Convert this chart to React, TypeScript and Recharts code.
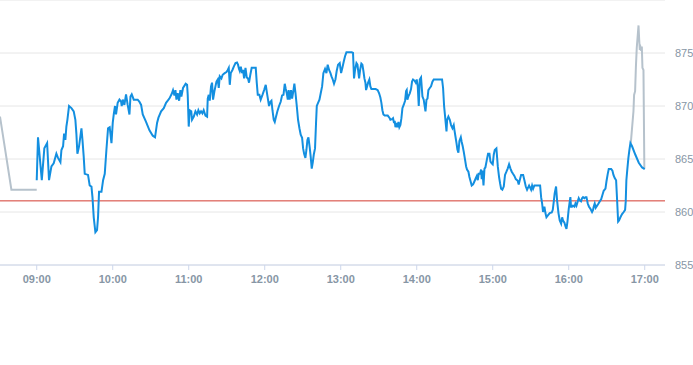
import React from 'react'
import { LineChart, Line, XAxis, YAxis, CartesianGrid, ReferenceLine } from 'recharts'

// minutes after 09:00 and price, regular session
const sessionTimes = [
  0, 1, 4, 6, 8.2, 9.7, 11.6, 13.4, 15.5, 16.8, 18.7, 19.5, 20.8, 21.6, 22.6, 23.4, 24.2, 25.5, 27.4, 29.2,
  30.5, 31.3, 32.1, 33.4, 35.3, 36.1, 37.1, 37.9, 40.5, 41.8, 43.2, 44, 45, 46.3, 47.6, 48.4, 49.2, 51.1, 52.4, 53.7,
  55, 56.3, 57.6, 59, 60, 60.8, 61.8, 62.6, 63.9, 65.3, 66.6, 67.1, 67.9, 69.2, 70.5, 71.8, 73.2, 74, 75, 76.6,
  79.7, 81.1, 82.4, 83.7, 86.3, 89, 91.6, 93.4, 95, 96.1, 98.2, 100.3, 102.1, 104.7, 106.6, 107.6, 108.7, 109.5, 110.3, 111.3,
  112.4, 113.4, 114.2, 115.5, 117.6, 118.7, 119.2, 120, 120.8, 122, 122.6, 124, 125.3, 126.6, 127.6, 128.7, 129.7, 130.8, 131.8, 133.2,
  134.5, 135, 135.8, 136.6, 137.6, 138.4, 139.2, 140.3, 141.9, 142.9, 143.7, 144.5, 145.8, 146.8, 148.4, 149.8, 150.8, 151.6, 152.4, 153.2,
  154.5, 155.5, 156.9, 158.1, 158.9, 159.7, 160.3, 161.1, 162.1, 162.9, 163.7, 164.8, 165.8, 166.8, 167.6, 168.7, 169.7, 172.9, 173.7, 174.5,
  175.8, 176.8, 178.2, 179.5, 180.8, 181.8, 183.4, 184.5, 185.3, 186.1, 187.1, 187.9, 188.7, 190, 191.3, 192.6, 193.7, 194.8, 195.8, 196.6,
  197.4, 198.2, 198.9, 199.7, 200.8, 201.6, 202.7, 203.4, 204.3, 205.3, 206.3, 207.4, 208.4, 209.5, 210.3, 211.1, 212.1, 212.9, 213.7, 214.5,
  215.5, 216.3, 217.1, 217.9, 218.7, 219.7, 220.5, 221.1, 222.1, 223.2, 224.2, 225.3, 226.3, 227.6, 228.7, 229.7, 230.8, 231.9, 232.7, 233.7,
  234.7, 235.8, 236.8, 237.9, 239.2, 240.3, 241.3, 242.4, 243.4, 244.5, 248.7, 249.7, 250.5, 251.3, 252.4, 253.2, 254, 254.5, 255.3, 256.3,
  257.1, 257.9, 258.7, 259.5, 260, 260.8, 261.6, 262.6, 263.4, 264.2, 267.6, 269.2, 270.3, 271.3, 272.1, 272.9, 273.7, 274.7, 277.1, 278.4,
  279.2, 280.5, 281.3, 282.1, 282.6, 283.2, 284, 284.8, 285.6, 286.3, 287.1, 287.9, 288.7, 289.7, 290.8, 291.6, 292.1, 292.6, 293.4, 294.5,
  295.5, 296.3, 297.1, 298.2, 299.2, 300, 300.8, 301.6, 302.4, 303.4, 304.5, 305.5, 306.9, 307.7, 308.5, 309.2, 310.3, 311.3, 312.4, 313.4,
  320, 320.8, 321.6, 322.4, 323.5, 324, 325, 326.1, 327.1, 328.2, 329.2, 329.8, 330.6, 331.4, 332.1, 332.9, 333.7, 334.8, 335.5, 336.3,
  337.1, 338.2, 339, 339.7, 340.8, 341.6, 342.4, 343.4, 344.5, 345.6, 346.6, 347.4, 348.2, 348.9, 350, 350.8, 351.3, 351.9, 352.7, 353.5,
  354.2, 355.3, 356.3, 357.4, 358.2, 359.2, 360, 360.8, 361.6, 362.9, 364, 365, 365.8, 366.6, 367.6, 368.7, 369.7, 370.8, 371.8, 372.9,
  374, 375, 376, 377.1, 378.2, 379.7, 380.5, 381.3, 382.4, 384, 385, 386.1, 387.1, 387.9, 388.7, 389.5, 390.3, 391.1, 391.9, 392.9,
  397.4, 398.2, 399, 399.7, 400.8, 401.6, 402.4, 403.7, 405, 406.6, 407.4, 408.2, 408.9, 410, 410.8, 411.9, 412.9, 414, 414.8, 415.5,
  416.6, 417.4, 418.2, 419, 420, 420.8, 421.3, 421.8, 422.6, 423.4, 424.5, 425.3, 426.1, 427.1, 427.9, 428.7, 429.7, 430.5, 431.3, 432.4,
  433.2, 434, 435, 436, 437.1, 438.4, 439.2, 439.7, 440.5, 441.3, 442.4, 443.5, 444.5, 445.6, 446.6, 447.6, 449, 449.8, 450.8, 451.6,
  453.5, 454.5, 455.3, 456.3, 457.4, 458.2, 459, 459.7, 460.8, 462.1, 463.4, 464.5, 465, 465.5, 466.3, 467.1, 467.9, 468.7, 470, 472.6,
  475.3, 477.9, 480,
]

const sessionPrices = [
  863.0, 867.05, 863.0, 866.0, 866.5, 863.0, 864.3, 864.6, 865.5, 865.1, 864.7, 865.85, 866.2, 867.4, 866.8, 868.06, 868.7, 870.0, 869.8, 869.5,
  868.7, 867.4, 865.5, 866.2, 867.9, 866.8, 865.2, 863.6, 863.5, 862.5, 862.4, 861.4, 859.5, 858.1, 858.3, 859.5, 861.9, 861.9, 863.0, 863.6,
  865.85, 867.9, 868.0, 866.5, 868.4, 869.2, 870.0, 869.2, 870.3, 870.6, 870.4, 870.0, 870.6, 870.1, 871.1, 870.1, 869.2, 870.9, 871.1, 870.6,
  870.6, 870.4, 870.1, 869.2, 868.5, 867.7, 867.2, 867.05, 868.4, 868.9, 869.5, 869.8, 870.3, 870.7, 871.15, 871.5, 871.0, 871.5, 870.6, 871.2,
  870.5, 871.5, 870.9, 871.7, 872.1, 872.0, 871.05, 868.06, 869.6, 869.5, 868.7, 869.0, 869.5, 869.2, 869.6, 869.3, 869.5, 869.3, 869.6, 869.1,
  869.0, 870.7, 871.05, 870.5, 871.85, 872.2, 870.6, 871.4, 872.3, 872.5, 871.7, 872.8, 872.6, 872.95, 873.1, 873.2, 873.4, 873.6, 872.0, 873.1,
  873.4, 873.7, 874.05, 874.1, 873.9, 873.5, 873.3, 873.7, 873.1, 873.4, 872.6, 873.6, 872.7, 872.6, 872.2, 873.0, 873.6, 873.6, 872.2, 871.05,
  871.05, 870.6, 871.05, 871.5, 872.0, 871.2, 870.0, 870.4, 870.5, 869.6, 868.7, 868.5, 868.9, 869.5, 870.0, 870.4, 871.0, 871.05, 872.1, 871.6,
  871.2, 870.6, 871.5, 870.6, 871.5, 870.7, 871.5, 872.1, 871.2, 870.0, 868.7, 867.9, 867.3, 867.0, 866.0, 865.5, 865.1, 865.85, 866.8, 867.05,
  866.1, 865.2, 864.1, 864.65, 865.4, 866.0, 868.4, 870.0, 870.3, 870.6, 871.2, 871.85, 873.1, 873.5, 873.1, 873.9, 873.4, 873.1, 872.8, 872.5,
  872.1, 872.5, 873.3, 873.9, 874.05, 873.1, 873.6, 874.2, 874.7, 875.06, 875.06, 875.0, 872.6, 873.4, 874.05, 873.9, 873.1, 872.6, 873.4, 874.0,
  873.9, 873.3, 872.6, 872.2, 871.5, 871.85, 872.2, 872.5, 871.85, 871.6, 871.6, 871.5, 871.2, 870.8, 870.3, 869.6, 869.2, 869.1, 869.1, 868.9,
  868.7, 868.75, 868.85, 868.4, 868.6, 868.0, 868.4, 868.0, 868.5, 868.0, 868.2, 868.85, 869.8, 870.1, 870.5, 871.4, 871.5, 870.6, 870.9, 871.2,
  871.6, 872.3, 872.5, 872.4, 872.2, 872.5, 871.85, 870.0, 872.5, 872.7, 870.9, 870.6, 869.5, 870.6, 870.7, 871.5, 871.7, 871.85, 872.3, 872.5,
  872.5, 871.7, 870.0, 869.0, 867.6, 868.7, 869.0, 868.7, 868.2, 867.9, 868.2, 867.7, 867.1, 866.5, 865.9, 865.6, 866.7, 867.05, 866.6, 866.2,
  865.7, 864.9, 864.3, 864.0, 863.8, 863.3, 862.95, 862.5, 862.6, 862.9, 863.2, 863.4, 863.0, 863.6, 863.6, 864.0, 863.1, 863.9, 862.5, 864.1,
  864.2, 864.9, 865.5, 865.5, 864.75, 864.6, 864.5, 865.4, 865.85, 866.0, 864.3, 863.3, 862.7, 862.2, 862.1, 862.4, 863.5, 863.8, 864.1, 864.5,
  864.1, 863.8, 863.6, 863.4, 863.1, 862.95, 862.6, 863.0, 863.5, 863.5, 863.0, 862.4, 862.1, 862.3, 862.5, 862.3, 862.1, 862.5, 862.2, 862.5,
  862.5, 861.4, 860.8, 860.0, 860.5, 859.9, 859.5, 859.7, 859.9, 859.95, 860.2, 861.0, 861.75, 862.4, 861.1, 859.9, 859.2, 858.9, 859.5, 859.2,
  859.0, 858.65, 858.4, 859.1, 860.3, 861.0, 861.4, 860.5, 860.5, 860.6, 860.5, 860.8, 860.6, 861.0, 861.3, 861.1, 861.0, 861.3, 861.4, 861.3,
  861.4, 861.4, 860.8, 860.5, 860.3, 860.0, 860.2, 860.5, 860.8, 860.4, 860.6, 860.8, 861.0, 861.2, 861.6, 862.0, 862.2, 862.9, 863.6, 864.05,
  864.05, 863.9, 863.5, 863.2, 863.0, 861.1, 859.1, 859.2, 859.5, 859.8, 860.0, 860.2, 861.0, 863.0, 864.1, 865.1, 865.85, 866.5, 866.2, 865.4,
  864.65, 864.2, 864.05,
]

// pre-market and after-hours (grey)
const preTimes = [-29, -20, 0]
const prePrices = [869.0, 862.1, 862.1]
const postTimes = [469, 471.1, 471.6, 472.4, 473, 473.7, 474.5, 475.1, 475.6, 476.1, 476.7, 477.2, 477.7, 478.2, 479, 479.7]
const postPrices = [866.5, 869.5, 871.05, 871.4, 873.6, 875.5, 876.7, 877.6, 876.3, 875.3, 875.5, 875.2, 875.6, 873.6, 873.4, 864.1]

const hourTicks = [9, 10, 11, 12, 13, 14, 15, 16, 17]
const priceTicks = [855, 860, 865, 870, 875]
const previousClose = 861.05

const OPEN = 9 * 60
const toRows = (times: number[], prices: number[]) => times.map((t, i) => ({ t: OPEN + t, v: prices[i] }))

const sessionData = toRows(sessionTimes, sessionPrices)
const preData = toRows(preTimes, prePrices)
const postData = toRows(postTimes, postPrices)

const fmtTime = (m: number) => {
  const h = Math.floor(m / 60)
  const mm = Math.round(m % 60)
  return `${String(h).padStart(2, '0')}:${String(mm).padStart(2, '0')}`
}

export default function App() {
  return (
    <div style={{ position: 'absolute', left: 0, top: 0, background: '#fff', fontFamily: '"Liberation Sans", Arial, sans-serif' }}>
      <LineChart width={693} height={300} margin={{ top: 0, right: 0, bottom: 0, left: 0 }}>
        <CartesianGrid vertical={false} stroke="#e6e6e6" />
        <XAxis
          dataKey="t"
          type="number"
          domain={[511, 1036]}
          ticks={hourTicks.map((h) => h * 60)}
          tickFormatter={fmtTime}
          allowDataOverflow
          height={35}
          stroke="#ccd6eb"
          tickSize={5}
          tickMargin={5}
          tick={{ fill: '#8796a5', fontSize: 11, fontWeight: 'bold' }}
        />
        <YAxis
          orientation="right"
          type="number"
          domain={[855, 880]}
          ticks={priceTicks}
          allowDataOverflow
          width={28}
          axisLine={false}
          tickLine={false}
          tickSize={6}
          tickMargin={4}
          tick={{ fill: '#8796a5', fontSize: 11, textAnchor: 'start' }}
        />
        <ReferenceLine y={previousClose} stroke="#d33a2f" strokeWidth={1} />
        <Line data={preData} dataKey="v" stroke="#b6c2cc" strokeWidth={2} dot={false} activeDot={false} isAnimationActive={false} />
        <Line data={postData} dataKey="v" stroke="#b6c2cc" strokeWidth={2} dot={false} activeDot={false} isAnimationActive={false} />
        <Line data={sessionData} dataKey="v" stroke="#138fe0" strokeWidth={2} dot={false} activeDot={false} isAnimationActive={false} />
      </LineChart>
    </div>
  )
}
